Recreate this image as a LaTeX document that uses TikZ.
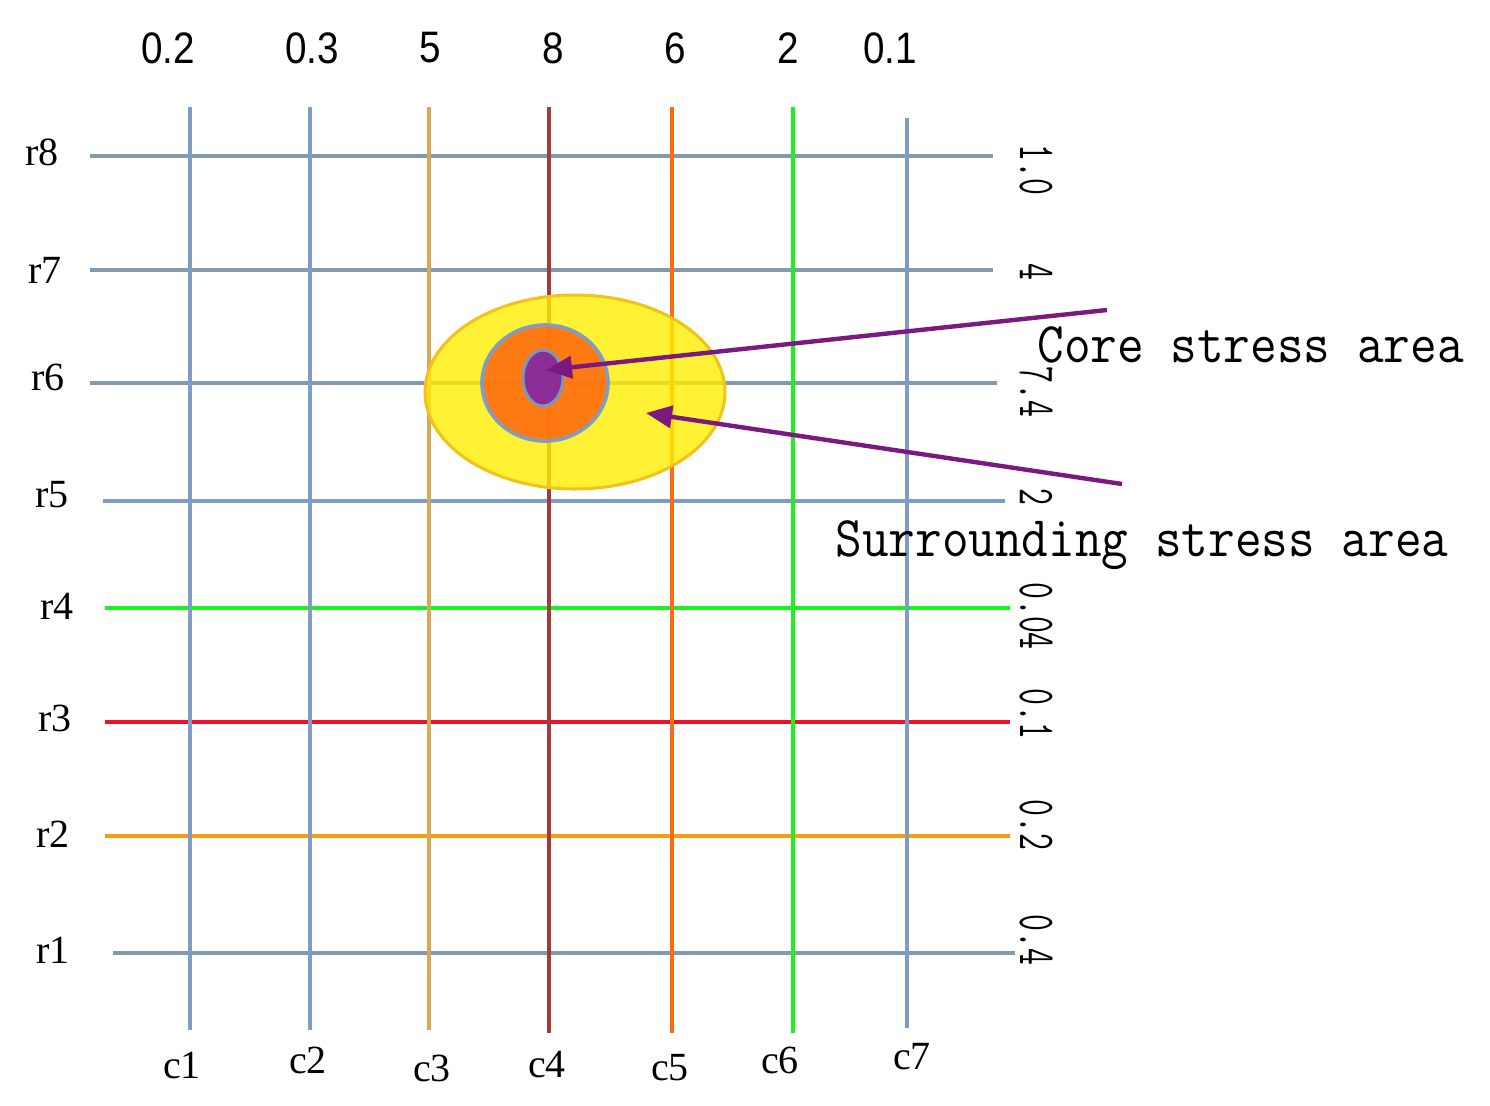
\documentclass[tikz,border=0pt]{standalone}
\usepackage{fontspec}
\setmainfont{Liberation Serif}
\newfontfamily\sansfont{Liberation Sans}
\usetikzlibrary{arrows.meta,shapes.geometric}
\definecolor{gblue}{HTML}{7F9CC4}
\definecolor{ggray}{HTML}{8399AE}
\definecolor{gtan}{HTML}{D6A955}
\definecolor{gdred}{HTML}{A23A3C}
\definecolor{gorange}{HTML}{FF6A12}
\definecolor{ggreen}{HTML}{1EF01E}
\definecolor{gred}{HTML}{F0102A}
\definecolor{gamber}{HTML}{FF9A0C}
\definecolor{gyellow}{HTML}{FFEE00}
\definecolor{gyedge}{HTML}{F2C21A}
\definecolor{gcore}{HTML}{FF6A0E}
\definecolor{gpurple}{HTML}{8A2E96}
\definecolor{garrow}{HTML}{7A1A80}
\newcommand{\monobold}{\ttfamily\addfontfeature{FakeBold=1.6}}
\tikzset{
  gridline/.style={line width=2.2pt},
  toplab/.style={font=\sansfont\fontsize{21}{23}\selectfont, inner sep=0pt, xscale=0.92, yscale=1.05},
  sidelab/.style={font=\fontsize{20}{22}\selectfont, inner sep=0pt},
  rightlab/.style={font=\monobold\fontsize{20}{22}\selectfont, inner sep=0pt, rotate=-90, yscale=1.3, xscale=0.82},
  arealab/.style={font=\monobold\fontsize{25}{27}\selectfont, inner sep=0pt, anchor=base west, yscale=1.15, xscale=1.035},
  pointer/.style={draw=garrow, line width=2.2pt, -{Triangle[length=13pt,width=11pt]}},
}
\begin{document}
\begin{tikzpicture}[x=0.5pt,y=-0.5pt]
\useasboundingbox (0,0) rectangle (1490,1105);
% rows
\draw[gridline, ggray] (90,156) -- (993,156);
\draw[gridline, ggray] (90,270) -- (993,270);
\draw[gridline, ggray] (90,383) -- (997,383);
\draw[gridline, gblue] (103,501) -- (1005,501);
\draw[gridline, ggreen] (105,608) -- (1010,608);
\draw[gridline, gred] (105,722) -- (1010,722);
\draw[gridline, gamber] (105,836) -- (1010,836);
\draw[gridline, ggray] (113,953) -- (1015,953);
% columns
\draw[gridline, gblue] (190,107) -- (190,1030);
\draw[gridline, gblue] (310,107) -- (310,1030);
\draw[gridline, gtan] (429,107) -- (429,1030);
\draw[gridline, gdred] (549,107) -- (549,1033);
\draw[gridline, gorange] (672,107) -- (672,1033);
\draw[gridline, ggreen] (793,107) -- (793,1033);
\draw[gridline, gblue] (907,118) -- (907,1028);
% stress areas
\node[ellipse, draw=gyedge, line width=1.5pt, fill=gyellow, fill opacity=0.8, minimum width=150pt, minimum height=97pt, inner sep=0pt] (surr) at (575,392) {};
\node[ellipse, draw=gblue, line width=1.8pt, fill=gcore, fill opacity=0.88, minimum width=63pt, minimum height=58pt, inner sep=0pt] (core) at (545,383) {};
\node[ellipse, draw=gblue!80!gray, line width=1.5pt, fill=gpurple, minimum width=20pt, minimum height=28pt, inner sep=0pt] (kernel) at (543,378) {};
% arrows
\coordinate (a1s) at (1107,310);
\coordinate (a1e) at (546,370);
\coordinate (a2s) at (1122,484);
\coordinate (a2e) at (646,413);
\draw[pointer] (a1s) -- (a1e);
\draw[pointer] (a2s) -- (a2e);
% top labels
\node[toplab] (t1) at (168,48) {0.2};
\node[toplab] (t2) at (312,48) {0.3};
\node[toplab] (t3) at (430,48) {5};
\node[toplab] (t4) at (553,48) {8};
\node[toplab] (t5) at (675,48) {6};
\node[toplab] (t6) at (788,48) {2};
\node[toplab] (t7) at (890,48) {0.1};
% left labels
\node[sidelab] (l8) at (42,152) {r8};
\node[sidelab] (l7) at (45,270) {r7};
\node[sidelab] (l6) at (48,377) {r6};
\node[sidelab] (l5) at (52,495) {r5};
\node[sidelab] (l4) at (57,606) {r4};
\node[sidelab] (l3) at (55,718) {r3};
\node[sidelab] (l2) at (53,834) {r2};
\node[sidelab] (l1) at (53,950) {r1};
% bottom labels
\node[sidelab] (b1) at (182,1065) {c1};
\node[sidelab] (b2) at (308,1060) {c2};
\node[sidelab] (b3) at (432,1068) {c3};
\node[sidelab] (b4) at (547,1065) {c4};
\node[sidelab] (b5) at (670,1068) {c5};
\node[sidelab] (b6) at (780,1060) {c6};
\node[sidelab] (b7) at (912,1057) {c7};
% right labels
\node[rightlab] (v8) at (1036,170) {1.0};
\node[rightlab] (v7) at (1036,272) {4};
\node[rightlab] (v6) at (1036,392) {7.4};
\node[rightlab] (v5) at (1036,497) {2};
\node[rightlab] (v4) at (1036,616) {0.04};
\node[rightlab] (v3) at (1036,714) {0.1};
\node[rightlab] (v2) at (1036,825) {0.2};
\node[rightlab] (v1) at (1036,940) {0.4};
% area labels
\node[arealab] (corelab) at (1037,362) {Core stress area};
\node[arealab] (surrlab) at (835,556) {Surrounding stress area};
\end{tikzpicture}
\end{document}
